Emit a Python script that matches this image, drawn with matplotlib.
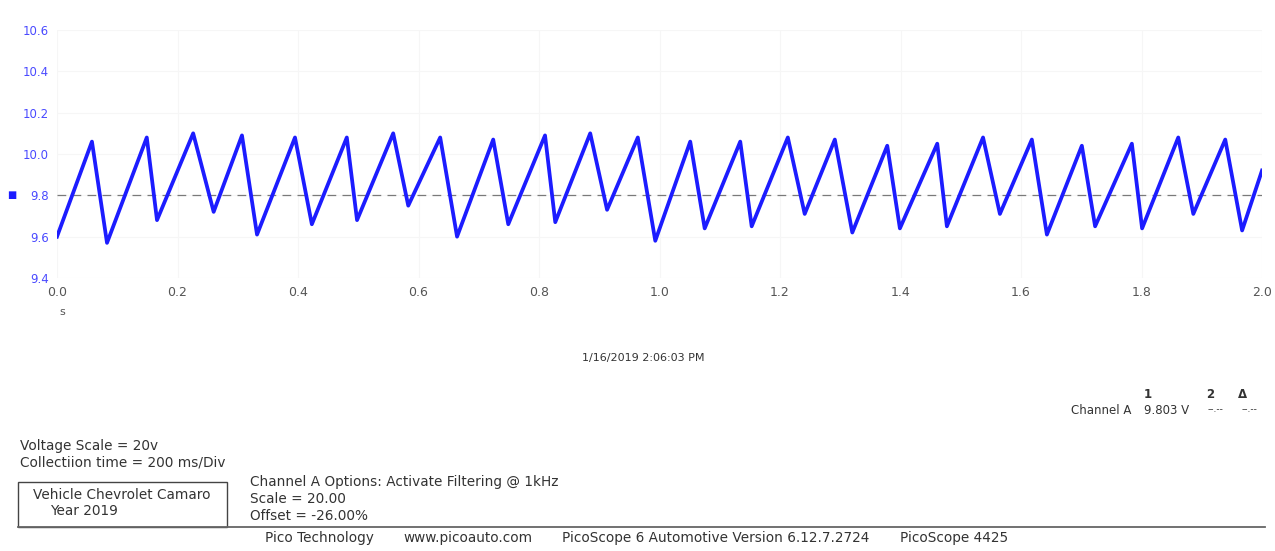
import matplotlib
matplotlib.use("Agg")
import matplotlib.pyplot as plt
from matplotlib.patches import Rectangle
from matplotlib.lines import Line2D

# waveform turning points (time s, voltage V)
t_pts = [0.000, 0.058, 0.083, 0.149, 0.166, 0.226, 0.260, 0.307, 0.332, 0.395,
         0.423, 0.481, 0.498, 0.558, 0.583, 0.636, 0.664, 0.724, 0.749, 0.810,
         0.827, 0.885, 0.913, 0.964, 0.993, 1.051, 1.075, 1.134, 1.153, 1.213,
         1.241, 1.291, 1.320, 1.378, 1.399, 1.461, 1.477, 1.537, 1.565, 1.618,
         1.643, 1.701, 1.723, 1.784, 1.801, 1.861, 1.886, 1.939, 1.967, 2.000]
v_pts = [9.60, 10.06, 9.57, 10.08, 9.68, 10.10, 9.72, 10.09, 9.61, 10.08,
         9.66, 10.08, 9.68, 10.10, 9.75, 10.08, 9.60, 10.07, 9.66, 10.09,
         9.67, 10.10, 9.73, 10.08, 9.58, 10.06, 9.64, 10.06, 9.65, 10.08,
         9.71, 10.07, 9.62, 10.04, 9.64, 10.05, 9.65, 10.08, 9.71, 10.07,
         9.61, 10.04, 9.65, 10.05, 9.64, 10.08, 9.71, 10.07, 9.63, 9.92]

y_ticks = [9.4, 9.6, 9.8, 10.0, 10.2, 10.4, 10.6]
x_ticks = [0.0, 0.2, 0.4, 0.6, 0.8, 1.0, 1.2, 1.4, 1.6, 1.8, 2.0]
ref_level = 9.8

info_left = ["Voltage Scale = 20v", "Collectiion time = 200 ms/Div"]
info_chan = ["Channel A Options: Activate Filtering @ 1kHz", "Scale = 20.00", "Offset = -26.00%"]
footer_items = ["Pico Technology", "www.picoauto.com",
                "PicoScope 6 Automotive Version 6.12.7.2724", "PicoScope 4425"]
footer_x = [265, 403, 562, 900]

W, H = 1275, 551
fig = plt.figure(figsize=(W / 100, H / 100), dpi=100)
ax = fig.add_axes([57 / W, 1 - 278 / H, (1262 - 57) / W, (278 - 30) / H])

ax.plot(t_pts, v_pts, color="#1c1cff", lw=2.7, solid_joinstyle="round", zorder=3)
ax.axhline(ref_level, color="#7a7a7a", lw=0.9, ls=(0, (7, 5)), zorder=2)

ax.set_xlim(0, 2.0)
ax.set_ylim(9.4, 10.6)
ax.set_xticks(x_ticks)
ax.set_yticks(y_ticks)
ax.set_xticklabels([f"{x:.1f}" for x in x_ticks], color="#555555", fontsize=9)
ax.set_yticklabels([f"{y:.1f}" for y in y_ticks], color="#4a4aff", fontsize=8.5)
ax.tick_params(length=0, pad=6)
ax.grid(True, color="#f6f6f6", lw=0.8, zorder=0)
ax.set_axisbelow(True)
for s in ax.spines.values():
    s.set_visible(False)

# small channel marker at the reference level
fig.text(12 / W, 1 - 195 / H, "\u25a0", color="#1c1cff", fontsize=7, ha="center", va="center")
fig.text(62 / W, 1 - 312 / H, "s", color="#555555", fontsize=8, ha="center", va="center")

txt = dict(color="#333333", fontsize=9.8, va="center")
fig.text(643 / W, 1 - 358 / H, "1/16/2019 2:06:03 PM", ha="center", **dict(txt, fontsize=8))

# channel readout table
small = dict(txt, fontsize=8.5)
fig.text(1148 / W, 1 - 395 / H, "1", ha="center", weight="bold", **small)
fig.text(1210 / W, 1 - 395 / H, "2", ha="center", weight="bold", **small)
fig.text(1243 / W, 1 - 395 / H, "\u0394", ha="center", weight="bold", **small)
fig.text(1131 / W, 1 - 410 / H, "Channel A", ha="right", **small)
fig.text(1144 / W, 1 - 410 / H, "9.803 V", ha="left", **small)
fig.text(1215 / W, 1 - 410 / H, "--.--", ha="center", **dict(txt, fontsize=6.5))
fig.text(1250 / W, 1 - 410 / H, "--.--", ha="center", **dict(txt, fontsize=6.5))

for i, s in enumerate(info_left):
    fig.text(20 / W, 1 - (446 + 17 * i) / H, s, ha="left", **txt)
for i, s in enumerate(info_chan):
    fig.text(250 / W, 1 - (482 + 17 * i) / H, s, ha="left", **txt)

fig.patches.append(Rectangle((18 / W, 1 - 527 / H), (227 - 18) / W, (527 - 482) / H,
                             transform=fig.transFigure, fill=False, ec="#444444", lw=1.0))
fig.text(122 / W, 1 - 495 / H, "Vehicle Chevrolet Camaro", ha="center", **txt)
fig.text(84 / W, 1 - 511 / H, "Year 2019", ha="center", **txt)
fig.lines.append(Line2D([18 / W, 1265 / W], [1 - 527 / H, 1 - 527 / H],
                        transform=fig.transFigure, color="#666666", lw=1.3))
for x, s in zip(footer_x, footer_items):
    fig.text(x / W, 1 - 538 / H, s, ha="left", **txt)

fig.savefig("out.png", dpi=100)
